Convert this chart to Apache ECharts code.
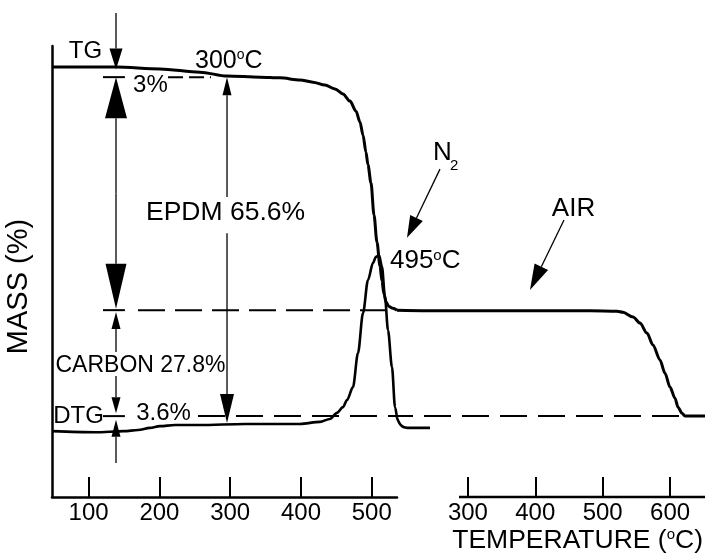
<!DOCTYPE html>
<html><head><meta charset="utf-8">
<script src="https://cdn.jsdelivr.net/npm/echarts@6/dist/echarts.min.js"></script>
<style>html,body{margin:0;padding:0;background:#fff}#c{width:705px;height:554px}</style>
</head><body><div id="c"></div>
<script>
// ---- DATA ----
// TG curve under N2, left temperature axis (°C) -> mass (%)
const tgN2Temp = [48.3, 138.7, 200.8, 257.3, 295.5, 342.1, 370.3, 398.6, 416.9, 433.9, 448.0, 459.3, 469.2, 477.7, 483.3, 487.6, 491.8, 494.6, 498.9, 503.1, 507.3, 511.6, 514.4, 517.2, 520.1, 524.3, 529.9, 535.6];
const tgN2Mass = [100.1, 100.1, 99.6, 98.7, 97.6, 97.3, 97.1, 96.5, 95.9, 95.1, 94.0, 92.6, 90.6, 87.8, 84.8, 81.1, 76.3, 72.8, 67.7, 58.8, 51.2, 44.5, 40.3, 36.7, 34.5, 33.2, 32.7, 32.2];
// DTG curve under N2, left temperature axis
const dtgTemp = [48.3, 109.3, 150.0, 169.8, 186.7, 200.8, 222.0, 257.3, 320.9, 398.6, 426.8, 440.9, 450.8, 459.3, 465.0, 473.4, 480.5, 487.6, 494.6, 501.7, 505.9, 510.2, 514.4, 518.6, 522.9, 528.5, 532.8, 535.6];
const dtgValue = [-1.6, -1.9, -1.6, -1.3, -0.7, -0.2, 0.1, 0.1, 0.4, 0.4, 1.0, 1.8, 3.5, 5.1, 7.1, 10.7, 20.2, 31.4, 40.6, 45.4, 47.1, 47.6, 44.3, 35.9, 26.6, 16.3, 5.1, 2.1];
// tail of the DTG curve that runs past the end of the left axis (read against the right-hand axis frame)
const dtgTailTemp = [194.8, 202.2, 214.1, 243.8];
const dtgTailValue = [2.1, -0.2, -0.7, -0.7];
// TG curve in AIR, right temperature axis
const tgAirTemp = [194.8, 273.4, 377.3, 481.2, 521.2, 530.1, 545.0, 555.3, 565.7, 574.6, 585.0, 592.4, 599.9, 607.3, 611.7, 617.7, 622.1, 651.8];
const tgAirMass = [32.2, 32.0, 32.0, 32.0, 31.9, 31.6, 30.3, 28.6, 25.8, 22.5, 18.3, 14.6, 10.7, 7.6, 5.1, 3.4, 2.6, 2.6];
// reference levels (mass %)
const levelTop3 = 97.3, levelCarbon = 32.2, levelAsh = 2.6;
// tick labels
const leftTicks = [100, 200, 300, 400, 500];
const rightTicks = [300, 400, 500, 600];

const F = '"Liberation Sans", Arial, Helvetica, sans-serif';
const zip = (a, b) => a.map((v, i) => [v, b[i]]);

// ---- annotations (data coordinates) ----
// arrows: [tailT, tailM, tipT, tipM, headLength(px), headWidth(px)]
const leftArrows = [
  [138.7, 115.2, 138.7, 99.4, 21, 13],
  [138.7, 64.8, 138.7, levelTop3, 41, 22],
  [138.7, 64.8, 138.7, 32.6, 45, 21],
  [138.7, 20.5, 138.7, 31.7, 17, 9],
  [138.7, 13.8, 138.7, 3.4, 16, 9],
  [138.7, -10.5, 138.7, 1.6, 17, 9],
  [295.5, 63.8, 295.5, levelTop3, 18, 9],
  [295.5, 53.7, 295.5, 0.7, 29, 14],
  [596.3, 71.6, 549.7, 52.4, 22, 14]
];
const rightArrows = [
  [442.6, 57.4, 392.1, 37.8, 26, 15]
];
const shortTicks = [levelTop3, levelCarbon, levelAsh]; // from 120.3 to 151.3 °C
function richOf(sz) {
  return {
    a: {fontSize: sz, fontFamily: F, fill: '#000', color: '#000'},
    s: {fontSize: Math.round(sz * 0.58), fontFamily: F, fill: '#000', color: '#000', verticalAlign: 'top'}
  };
}
// texts: [T, M, text, align, fontSize]
const leftTexts = [
  [95.6, 104.6, '{a|TG}', 'center', 24],
  [250.3, 101.8, '{a|300}{s|o}{a|C}', 'left', 25],
  [162.8, 95.0, '{a|3%}', 'left', 24],
  [293.4, 59.3, '{a|EPDM 65.6%}', 'center', 26.5],
  [173.3, 16.7, '{a|CARBON 27.8%}', 'center', 23],
  [85.7, 2.6, '{a|DTG}', 'center', 24],
  [205.8, 3.3, '{a|3.6%}', 'center', 24],
  [586.4, 76.1, '{a|N}', 'left', 26],
  [610.5, 72.4, '{a|2}', 'left', 15],
  [525.7, 45.9, '{a|495}{s|o}{a|C}', 'left', 26]
];
const rightTexts = [
  [456.7, 60.6, '{a|AIR}', 'center', 26]
];

function arrowEls(api, a) {
  const p1 = api.coord([a[0], a[1]]), p2 = api.coord([a[2], a[3]]);
  const L = a[4], W = a[5];
  const dx = p2[0] - p1[0], dy = p2[1] - p1[1], len = Math.hypot(dx, dy);
  const ux = dx / len, uy = dy / len;
  const bx = p2[0] - ux * L, by = p2[1] - uy * L;
  const nx = -uy * W / 2, ny = ux * W / 2;
  return [
    {type: 'line', shape: {x1: p1[0], y1: p1[1], x2: bx, y2: by}, style: {stroke: '#000', lineWidth: 1.3}},
    {type: 'polygon', shape: {points: [[p2[0], p2[1]], [bx + nx, by + ny], [bx - nx, by - ny]]}, style: {fill: '#000'}}
  ];
}
function textEl(api, t) {
  const p = api.coord([t[0], t[1]]);
  return {type: 'text', x: p[0], y: p[1], style: {text: t[2], rich: richOf(t[4]), fontSize: t[4], fontFamily: F, fill: '#000', align: t[3], verticalAlign: 'middle'}};
}
function annoSeries(arrows, texts, ticks, gi) {
  return {
    type: 'custom', xAxisIndex: gi, yAxisIndex: gi, silent: true, clip: false, z: 5,
    data: [[300, 50]],
    renderItem: function (params, api) {
      let ch = [];
      arrows.forEach(a => { ch = ch.concat(arrowEls(api, a)); });
      ticks.forEach(m => {
        const p1 = api.coord([120.3, m]), p2 = api.coord([151.3, m]);
        ch.push({type: 'line', shape: {x1: p1[0], y1: p1[1], x2: p2[0], y2: p2[1]}, style: {stroke: '#000', lineWidth: 2}});
      });
      texts.forEach(t => ch.push(textEl(api, t)));
      return {type: 'group', children: ch};
    }
  };
}
function dashed(gi, x1, x2, m, dash, off) {
  return {type: 'line', xAxisIndex: gi, yAxisIndex: gi, data: [[x1, m], [x2, m]], symbol: 'none', silent: true, clip: false, z: 2,
    lineStyle: {color: '#000', width: 2, type: dash, dashOffset: off || 0}};
}

const axisCommon = {
  axisLabel: {color: '#000', fontSize: 24, fontFamily: F, margin: 4},
  axisTick: {show: true, inside: true, length: 20, lineStyle: {color: '#000', width: 2}},
  splitLine: {show: false}
};

const chart = echarts.init(document.getElementById('c'), null, {renderer: 'canvas'});
chart.setOption({
  animation: false,
  backgroundColor: '#fff',
  grid: [
    {left: 52, top: 46, width: 345, height: 451, outerBoundsMode: 'none'},
    {left: 397, top: 46, width: 308, height: 451, outerBoundsMode: 'none'}
  ],
  xAxis: [
    Object.assign({}, axisCommon, {type: 'value', gridIndex: 0, min: 48.3, max: 535.6,
      axisLine: {show: true, onZero: false, lineStyle: {color: '#000', width: 2.5}},
      axisLabel: Object.assign({}, axisCommon.axisLabel, {customValues: leftTicks}),
      axisTick: Object.assign({}, axisCommon.axisTick, {customValues: leftTicks})}),
    Object.assign({}, axisCommon, {type: 'value', gridIndex: 1, min: 194.8, max: 651.8,
      axisLine: {show: false, onZero: false},
      axisLabel: Object.assign({}, axisCommon.axisLabel, {customValues: rightTicks}),
      axisTick: Object.assign({}, axisCommon.axisTick, {customValues: rightTicks}),
      name: '{a|TEMPERATURE (}{s|o}{a|C)}', nameLocation: 'end', nameGap: 0,
      nameTextStyle: {color: '#000', align: 'right', verticalAlign: 'top', padding: [30, 2, 0, 0], rich: richOf(26.5)}})
  ],
  yAxis: [
    {type: 'value', gridIndex: 0, min: -20, max: 106,
      axisLine: {show: true, onZero: false, lineStyle: {color: '#000', width: 2.5}},
      axisTick: {show: false}, axisLabel: {show: false}, splitLine: {show: false},
      name: 'MASS (%)', nameLocation: 'middle', nameGap: 19,
      nameTextStyle: {color: '#000', fontSize: 29, fontFamily: F, padding: [0, 30, 0, 0]}},
    {type: 'value', gridIndex: 1, min: -20, max: 106, show: false, splitLine: {show: false}}
  ],
  series: [
    dashed(0, 212.2, 272.9, levelTop3, [15, 6]),
    dashed(0, 169.8, 520, levelCarbon, [27, 10]),
    dashed(0, 254.5, 535.6, levelAsh, [27, 11]),
    dashed(1, 194.8, 651.8, levelAsh, [27, 11], 11),
    {type: 'line', xAxisIndex: 1, yAxisIndex: 1, data: [[286.8, -20], [651.8, -20]], symbol: 'none', silent: true, clip: false,
      lineStyle: {color: '#000', width: 2.5}, z: 3},
    {type: 'line', name: 'TG N2', xAxisIndex: 0, yAxisIndex: 0, data: zip(tgN2Temp, tgN2Mass), symbol: 'none', smooth: 0.3, smoothMonotone: 'x', clip: false,
      lineStyle: {color: '#000', width: 3}, z: 4},
    {type: 'line', name: 'DTG', xAxisIndex: 0, yAxisIndex: 0, data: zip(dtgTemp, dtgValue), symbol: 'none', smooth: 0.3, smoothMonotone: 'x', clip: false,
      lineStyle: {color: '#000', width: 2.6}, z: 4},
    {type: 'line', name: 'DTG tail', xAxisIndex: 1, yAxisIndex: 1, data: zip(dtgTailTemp, dtgTailValue), symbol: 'none', smooth: 0.4, clip: false,
      lineStyle: {color: '#000', width: 2.6}, z: 4},
    {type: 'line', name: 'TG air', xAxisIndex: 1, yAxisIndex: 1, data: zip(tgAirTemp, tgAirMass), symbol: 'none', smooth: 0.3, smoothMonotone: 'x', clip: false,
      lineStyle: {color: '#000', width: 3}, z: 4},
    annoSeries(leftArrows, leftTexts, shortTicks, 0),
    annoSeries(rightArrows, rightTexts, [], 1)
  ]
});
</script></body></html>
